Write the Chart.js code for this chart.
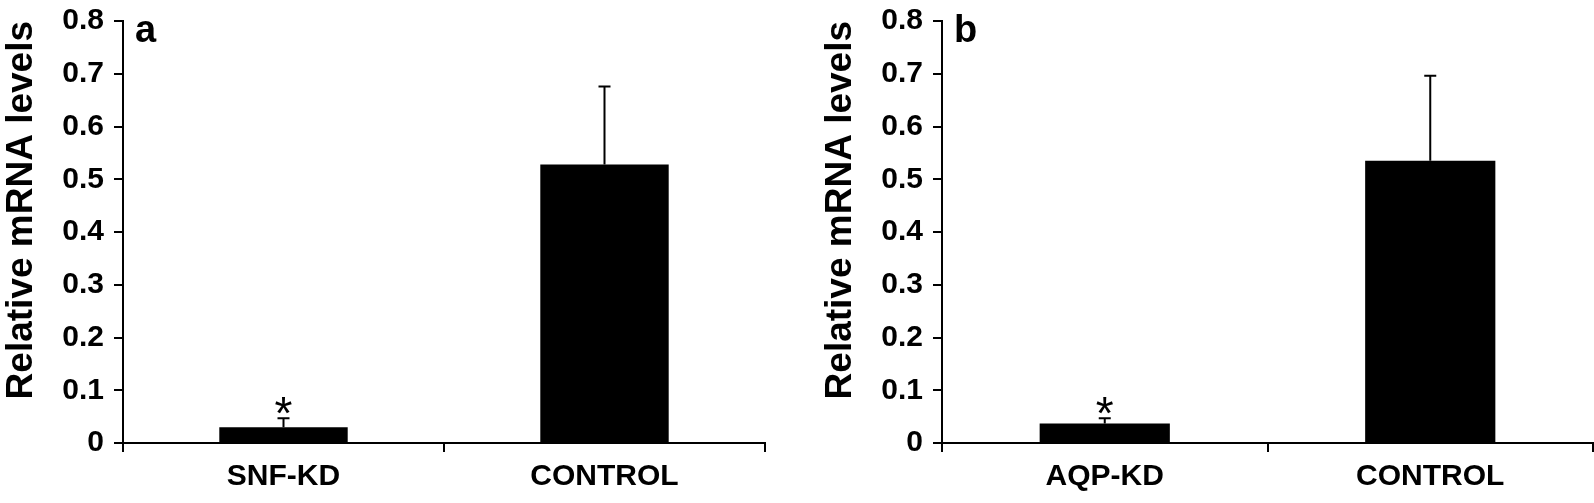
<!DOCTYPE html>
<html>
<head>
<meta charset="utf-8">
<script src="https://cdn.jsdelivr.net/npm/chart.js@4.4.1/dist/chart.umd.min.js"></script>
<style>
  html, body { margin: 0; padding: 0; background: #fff; }
  body { width: 1594px; height: 503px; position: relative; overflow: hidden; }
  .panel { position: absolute; top: 0; height: 503px; }
  #pa { left: 0; width: 780px; }
  #pb { left: 819px; width: 775px; }
</style>
</head>
<body>
<div class="panel" id="pa"><canvas id="ca" width="780" height="503"></canvas></div>
<div class="panel" id="pb"><canvas id="cb" width="775" height="503"></canvas></div>
<script>
// ---- data ----
const categoriesA = ['SNF-KD', 'CONTROL'];
const valuesA = [0.030, 0.528];
const errorsA = [0.017, 0.148];
const starsA = ['*', ''];

const categoriesB = ['AQP-KD', 'CONTROL'];
const valuesB = [0.037, 0.535];
const errorsB = [0.010, 0.161];
const starsB = ['*', ''];

const yTickValues = [0, 0.1, 0.2, 0.3, 0.4, 0.5, 0.6, 0.7, 0.8];
const yTickLabels = ['0', '0.1', '0.2', '0.3', '0.4', '0.5', '0.6', '0.7', '0.8'];
const yTitle = 'Relative mRNA levels';

const FONT = '"Liberation Sans", Arial, Helvetica, sans-serif';

const annotPlugin = {
  id: 'annot',
  afterDatasetsDraw(chart, args, opts) {
    const ctx = chart.ctx;
    const meta = chart.getDatasetMeta(0);
    const ys = chart.scales.y;
    const vals = chart.data.datasets[0].data;
    ctx.save();
    ctx.strokeStyle = '#000';
    ctx.fillStyle = '#000';
    ctx.lineWidth = 2;
    meta.data.forEach((bar, i) => {
      const x = bar.x;
      const yTop = ys.getPixelForValue(vals[i]);
      const yErr = ys.getPixelForValue(vals[i] + opts.errors[i]);
      ctx.beginPath();
      ctx.moveTo(x, yTop);
      ctx.lineTo(x, yErr);
      ctx.moveTo(x - 6, yErr);
      ctx.lineTo(x + 6, yErr);
      ctx.stroke();
      if (opts.stars[i]) {
        ctx.font = '46px ' + FONT;
        ctx.textAlign = 'center';
        ctx.textBaseline = 'alphabetic';
        ctx.fillText(opts.stars[i], x, yErr - 15 + 26);
      }
    });
    const ca = chart.chartArea;
    ctx.font = 'bold 38px ' + FONT;
    ctx.textAlign = 'left';
    ctx.textBaseline = 'alphabetic';
    ctx.fillText(opts.letter, ca.left + 12, 42);
    ctx.restore();
  }
};

function makeChart(id, cats, vals, errs, stars, letter, padRight) {
  return new Chart(document.getElementById(id), {
    type: 'bar',
    data: {
      labels: cats,
      datasets: [{
        data: vals,
        backgroundColor: '#000',
        borderWidth: 0,
        categoryPercentage: 1.0,
        barPercentage: 0.4
      }]
    },
    options: {
      responsive: false,
      animation: false,
      devicePixelRatio: 1,
      layout: { padding: { top: 21, right: padRight, left: 0, bottom: 0 } },
      plugins: {
        legend: { display: false },
        tooltip: { enabled: false },
        annot: { errors: errs, stars: stars, letter: letter }
      },
      scales: {
        x: {
          offset: true,
          grid: {
            offset: true,
            drawOnChartArea: false,
            drawTicks: true,
            tickLength: 9,
            color: '#000',
            lineWidth: 2
          },
          border: { display: true, color: '#000', width: 2 },
          ticks: {
            color: '#000',
            font: { family: FONT, size: 30, weight: 'bold' },
            padding: 7,
            maxRotation: 0
          },
          afterFit(scale) { scale.height = 60; }
        },
        y: {
          min: 0,
          max: 0.8,
          afterBuildTicks(scale) {
            scale.ticks = yTickValues.map(v => ({ value: v }));
          },
          grid: {
            drawOnChartArea: false,
            drawTicks: true,
            tickLength: 9,
            color: '#000',
            lineWidth: 2
          },
          border: { display: true, color: '#000', width: 2 },
          ticks: {
            color: '#000',
            font: { family: FONT, size: 30, weight: 'bold' },
            padding: 10,
            callback: (v) => {
              const idx = yTickValues.findIndex(t => Math.abs(t - v) < 1e-9);
              return idx >= 0 ? yTickLabels[idx] : '';
            }
          },
          title: {
            display: true,
            text: yTitle,
            align: 'end',
            color: '#000',
            font: { family: FONT, size: 37, weight: 'bold', lineHeight: 1.0 },
            padding: { top: 3, bottom: 0 }
          },
          afterFit(scale) {
            scale.width = 123;
            scale.paddingTop = 0;
            scale.paddingBottom = 0;
          }
        }
      }
    },
    plugins: [annotPlugin]
  });
}

makeChart('ca', categoriesA, valuesA, errorsA, starsA, 'a', 15);
makeChart('cb', categoriesB, valuesB, errorsB, starsB, 'b', 1);
</script>
</body>
</html>
